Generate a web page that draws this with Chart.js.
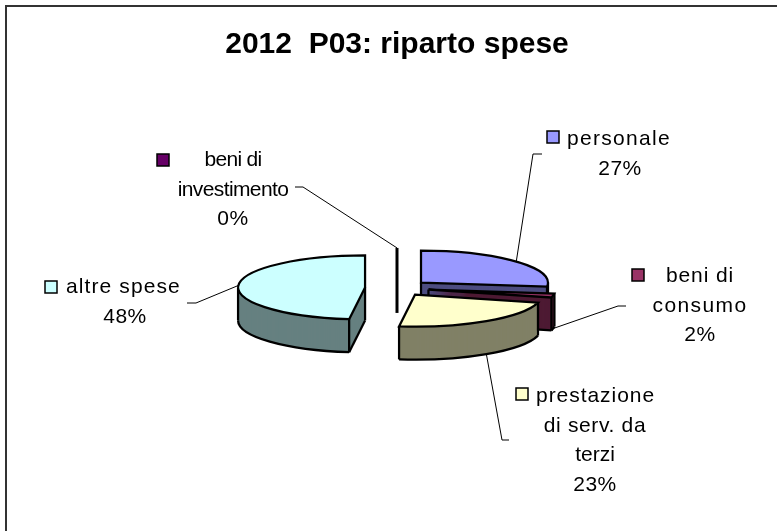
<!DOCTYPE html>
<html>
<head>
<meta charset="utf-8">
<script src="https://cdn.jsdelivr.net/npm/chart.js@4"></script>
<style>
html, body { margin: 0; padding: 0; background: #fff; }
canvas { display: block; }
</style>
</head>
<body>
<canvas id="myChart" width="777" height="531"></canvas>
<script>
// values as printed on the chart
var categories = ['personale', 'beni di consumo', 'prestazione di serv. da terzi', 'altre spese', 'beni di investimento'];
var values = [27, 2, 23, 48, 0];
var sliceColors = ['#9999FF', '#993366', '#FFFFCC', '#CCFFFF', '#660066'];
var wallColors = ['#4D4D80', '#4D1A33', '#808066', '#668080', '#330033'];
var titleText = '2012  P03: riparto spese';

// how each category name wraps in its label
var labelLines = [
    ['personale'],
    ['beni di', 'consumo'],
    ['prestazione', 'di serv. da', 'terzi'],
    ['altre spese'],
    ['beni di', 'investimento']
];
// letter spacing per line, last one is the percent line
var labelTracking = [
    [1.3, 0.5],
    [0.9, 1.4, 0.5],
    [0.95, 0.65, 0, 0.5],
    [1.1, 0.5],
    [-0.7, -0.6, 0.5]
];

// 3d look of the pie
var tilt = 0.252;
var depth = 33;
var explode = 32;

// label placement: centre x, first baseline, legend key x/y, elbow of the leader line
var labelLayout = [
    { x: 620, y: 145, keyX: 553, keyY: 137, textX: 567, elbow: [[542, 154], [533, 154]] },
    { x: 700, y: 282, keyX: 638, keyY: 275, elbow: [[626, 306], [618, 306]] },
    { x: 595, y: 402, keyX: 522, keyY: 394, textX: 536, elbow: [[509, 440], [502, 440]] },
    { x: 125, y: 293, keyX: 51, keyY: 287, textX: 66, elbow: [[187, 303], [196, 303]] },
    { x: 233, y: 166, keyX: 163, keyY: 160, elbow: [[295, 187], [303, 187]] }
];

function sliceCenter(arc) {
    var half = (arc.startAngle + arc.endAngle) / 2;
    return {
        x: arc.x + Math.cos(half) * explode,
        y: arc.y + Math.sin(half) * explode * tilt
    };
}

function rimPoint(arc, c, angle, dy) {
    return {
        x: c.x + Math.cos(angle) * arc.outerRadius,
        y: c.y + Math.sin(angle) * arc.outerRadius * tilt + dy
    };
}

function drawFlatArc(ctx, arc, color, dy) {
    var half = (arc.startAngle + arc.endAngle) / 2;
    var saved = arc.options;
    arc.options = { backgroundColor: color, borderColor: color, borderWidth: 0, offset: 0, spacing: 0, circular: true, borderAlign: 'center', borderRadius: 0 };
    ctx.save();
    ctx.translate(0, arc.y + dy);
    ctx.scale(1, tilt);
    ctx.translate(0, -arc.y);
    ctx.translate(Math.cos(half) * explode, Math.sin(half) * explode);
    arc.draw(ctx);
    ctx.restore();
    arc.options = saved;
}

function drawLine(ctx, a, b) {
    ctx.beginPath();
    ctx.moveTo(a.x, a.y);
    ctx.lineTo(b.x, b.y);
    ctx.stroke();
}

function drawSlice(ctx, arc, i) {
    var c = sliceCenter(arc);
    var r = arc.outerRadius;
    ctx.strokeStyle = '#000';
    ctx.lineWidth = 2.25;

    // nothing to fill for a 0% slice, it is only a line
    if (arc.circumference === 0) {
        ctx.lineWidth = 3;
        drawLine(ctx, rimPoint(arc, c, arc.startAngle, 0), { x: c.x, y: c.y + depth });
        return;
    }

    for (var dy = depth; dy > 0; dy--) {
        drawFlatArc(ctx, arc, wallColors[i], dy);
    }

    // outer wall that faces the viewer
    var from = Math.max(arc.startAngle, 0);
    var to = Math.min(arc.endAngle, Math.PI);
    if (to > from) {
        ctx.beginPath();
        ctx.ellipse(c.x, c.y + depth, r, r * tilt, 0, from, to);
        ctx.stroke();
        drawLine(ctx, rimPoint(arc, c, from, 0), rimPoint(arc, c, from, depth));
        drawLine(ctx, rimPoint(arc, c, to, 0), rimPoint(arc, c, to, depth));
    }

    // flat cut faces that can be seen
    var bottom = { x: c.x, y: c.y + depth };
    if (Math.cos(arc.startAngle) < -1e-6) {
        drawLine(ctx, rimPoint(arc, c, arc.startAngle, depth), bottom);
        drawLine(ctx, c, bottom);
    }
    if (Math.cos(arc.endAngle) > 1e-6) {
        drawLine(ctx, rimPoint(arc, c, arc.endAngle, depth), bottom);
        drawLine(ctx, c, bottom);
    }

    // top face
    drawFlatArc(ctx, arc, sliceColors[i], 0);
    ctx.beginPath();
    ctx.moveTo(c.x, c.y);
    ctx.ellipse(c.x, c.y, r, r * tilt, 0, arc.startAngle, arc.endAngle);
    ctx.closePath();
    ctx.stroke();
}

function drawLabel(ctx, arc, i) {
    var layout = labelLayout[i];
    var c = sliceCenter(arc);
    var half = (arc.startAngle + arc.endAngle) / 2;
    var lines = labelLines[i].concat([values[i] + '%']);

    // leader line ends on the rim, in the middle of the slice
    var end = rimPoint(arc, c, half, Math.sin(half) > 0 ? depth : 0);
    ctx.strokeStyle = '#000';
    ctx.lineWidth = 1;
    ctx.beginPath();
    ctx.moveTo(layout.elbow[0][0], layout.elbow[0][1]);
    ctx.lineTo(layout.elbow[1][0], layout.elbow[1][1]);
    ctx.lineTo(end.x, end.y);
    ctx.stroke();

    // legend key
    ctx.fillStyle = sliceColors[i];
    ctx.lineWidth = 1.5;
    ctx.fillRect(layout.keyX - 6, layout.keyY - 6, 12, 12);
    ctx.strokeRect(layout.keyX - 6, layout.keyY - 6, 12, 12);

    ctx.fillStyle = '#000';
    ctx.font = '21px "Liberation Sans"';
    ctx.textBaseline = 'alphabetic';
    for (var n = 0; n < lines.length; n++) {
        ctx.letterSpacing = labelTracking[i][n] + 'px';
        if (n == 0 && layout.textX) {
            ctx.textAlign = 'left';
            ctx.fillText(lines[n], layout.textX, layout.y);
        } else {
            ctx.textAlign = 'center';
            ctx.fillText(lines[n], layout.x, layout.y + n * 29.7);
        }
    }
    ctx.letterSpacing = '0px';
}

var pie3d = {
    id: 'pie3d',
    beforeDraw: function (chart) {
        var ctx = chart.ctx;
        ctx.save();
        ctx.fillStyle = '#fff';
        ctx.fillRect(0, 0, chart.width, chart.height);
        // the frame only shows on the top and left, the rest is cropped away
        ctx.strokeStyle = '#333';
        ctx.lineWidth = 2;
        ctx.beginPath();
        ctx.moveTo(6, chart.height);
        ctx.lineTo(6, 6);
        ctx.lineTo(chart.width, 6);
        ctx.stroke();
        ctx.restore();
    },
    beforeDatasetsDraw: function (chart) {
        var ctx = chart.ctx;
        var arcs = chart.getDatasetMeta(0).data;
        ctx.save();
        arcs.forEach(function (arc, i) { drawSlice(ctx, arc, i); });
        arcs.forEach(function (arc, i) { drawLabel(ctx, arc, i); });
        ctx.restore();
        return false; // slices are done here, back to front
    }
};

var masspopChart = new Chart('myChart', {
    type: 'pie',
    data: {
        labels: categories,
        datasets: [{
            data: values,
            backgroundColor: sliceColors,
            borderWidth: 0,
            radius: 127
        }]
    },
    options: {
        responsive: false,
        animation: false,
        layout: { padding: { left: 17, right: 0, top: 0, bottom: 27 } },
        plugins: {
            legend: { display: false },
            tooltip: { enabled: false },
            title: {
                display: true,
                text: titleText,
                color: '#000',
                font: { family: '"Liberation Sans"', size: 30, weight: 'bold' },
                padding: { top: 27, bottom: 9 }
            }
        }
    },
    plugins: [pie3d]
});
</script>
</body>
</html>
